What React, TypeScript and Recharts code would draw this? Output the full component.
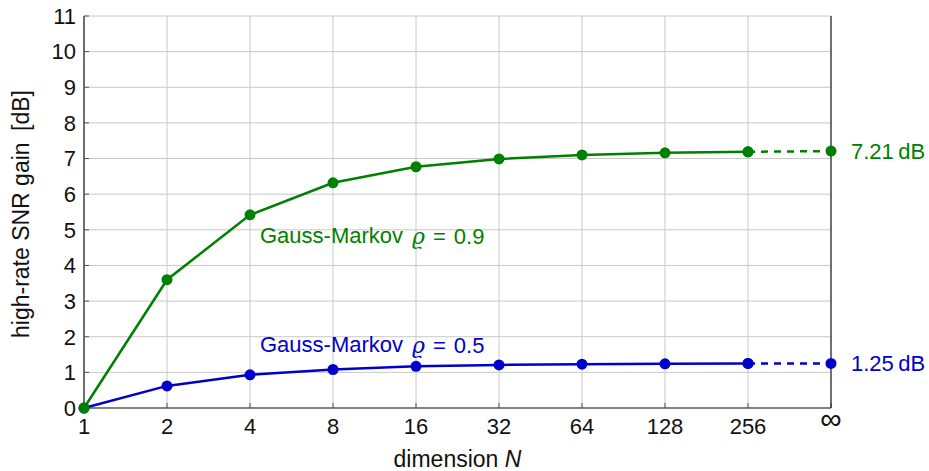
import React from 'react';
import { LineChart, Line, XAxis, YAxis, CartesianGrid, LabelList } from 'recharts';

const categories = ['1', '2', '4', '8', '16', '32', '64', '128', '256', '∞'];
const gm09 = [0, 3.6, 5.42, 6.32, 6.77, 6.99, 7.1, 7.16, 7.19, null];
const gm05 = [0, 0.62, 0.93, 1.08, 1.17, 1.21, 1.23, 1.24, 1.25, null];
const gm09Limit = [null, null, null, null, null, null, null, null, 7.19, 7.21];
const gm05Limit = [null, null, null, null, null, null, null, null, 1.25, 1.25];
const yTicks = [0, 1, 2, 3, 4, 5, 6, 7, 8, 9, 10, 11];
const limitLabels = ['7.21\u2009dB', '1.25\u2009dB'];
const rhoValues = ['0.9', '0.5'];

const GREEN = '#008000';
const BLUE = '#0000cc';
const FONT = '"Liberation Sans", Arial, sans-serif';

const data = categories.map((c, i) => ({
  cat: c,
  gm09: gm09[i],
  gm05: gm05[i],
  gm09Limit: gm09Limit[i],
  gm05Limit: gm05Limit[i],
}));

const makeAnnot = (color: string, rho: string, dx: number, dy: number) => (props: any) => {
  const { x, y, index } = props;
  if (index !== 2) return null;
  return (
    <text x={x + dx} y={y + dy} fill={color} fontSize={22} fontFamily={FONT} dominantBaseline="central">
      Gauss-Markov
      <tspan fontStyle="italic" fontFamily='"DejaVu Serif", serif' dx={9}>ϱ</tspan>
      <tspan dx={8}>=</tspan>
      <tspan dx={8}>{rho}</tspan>
    </text>
  );
};

const makeLimit = (color: string, text: string) => (props: any) => {
  const { x, y, index } = props;
  if (index !== categories.length - 1) return null;
  return (
    <text x={x + 20} y={y} fill={color} fontSize={22} fontFamily={FONT} dominantBaseline="central">
      {text}
    </text>
  );
};

const XTick = (props: any) => {
  const { x, payload } = props;
  const isInf = payload.value === '∞';
  return (
    <text
      x={x}
      y={isInf ? 429 : 434}
      textAnchor="middle"
      fill="#111"
      fontSize={isInf ? 30 : 22}
      fontFamily={FONT}
    >
      {payload.value}
    </text>
  );
};

export default function App() {
  return (
    <div style={{ position: 'absolute', left: 0, top: 0, width: 929, height: 471, background: '#fff' }}>
      <LineChart width={929} height={471} data={data} margin={{ top: 16, right: 97, bottom: 0, left: 0 }}>
        <CartesianGrid stroke="#c8c8c8" strokeWidth={1} />
        <XAxis
          dataKey="cat"
          height={63}
          axisLine={{ stroke: '#222', strokeWidth: 1.2 }}
          tickLine={{ stroke: '#555' }}
          tickSize={-5}
          tickMargin={16}
          interval={0}
          tick={<XTick />}
          label={{
            content: (p: any) => {
              const vb = p.viewBox;
              return (
                <text x={vb.x + vb.width / 2} y={467} textAnchor="middle" fontSize={23} fontFamily={FONT} fill="#111">
                  dimension <tspan fontStyle="italic">N</tspan>
                </text>
              );
            },
          }}
        />
        <XAxis
          xAxisId="top"
          dataKey="cat"
          orientation="top"
          height={0}
          axisLine={{ stroke: '#222', strokeWidth: 1.2 }}
          tickLine={{ stroke: '#555' }}
          tickSize={-5}
          tick={false}
          interval={0}
        />
        <YAxis
          domain={[0, 11]}
          ticks={yTicks}
          width={84}
          interval={0}
          axisLine={{ stroke: '#222', strokeWidth: 1.2 }}
          tickLine={{ stroke: '#555' }}
          tickSize={-5}
          tickMargin={13}
          tick={{ fill: '#111', fontSize: 22, fontFamily: FONT }}
          label={{
            content: () => {
              const cx = 21;
              const cy = 214;
              return (
                <text x={cx} y={cy} textAnchor="middle" dominantBaseline="central" fontSize={23} fontFamily={FONT} fill="#111" transform={`rotate(-90 ${cx} ${cy})`} style={{ whiteSpace: 'pre' }}>
                  {'high-rate SNR gain\u2002[dB]'}
                </text>
              );
            },
          }}
        />
        <YAxis
          yAxisId="right"
          orientation="right"
          domain={[0, 11]}
          ticks={yTicks}
          width={1}
          interval={0}
          axisLine={{ stroke: '#222', strokeWidth: 1.2 }}
          tickLine={{ stroke: '#555' }}
          tickSize={-5}
          tick={false}
        />
        <Line
          dataKey="gm09Limit"
          stroke={GREEN}
          strokeWidth={2.5}
          strokeDasharray="7 6"
          dot={{ r: 5.5, fill: GREEN, stroke: GREEN, strokeWidth: 0 }}
          isAnimationActive={false}
        >
          <LabelList content={makeLimit(GREEN, limitLabels[0])} />
        </Line>
        <Line
          dataKey="gm05Limit"
          stroke={BLUE}
          strokeWidth={2.5}
          strokeDasharray="7 6"
          dot={{ r: 5.5, fill: BLUE, stroke: BLUE, strokeWidth: 0 }}
          isAnimationActive={false}
        >
          <LabelList content={makeLimit(BLUE, limitLabels[1])} />
        </Line>
        <Line
          dataKey="gm05"
          stroke={BLUE}
          strokeWidth={2.5}
          dot={{ r: 5.5, fill: BLUE, stroke: BLUE, strokeWidth: 0 }}
          isAnimationActive={false}
        >
          <LabelList content={makeAnnot(BLUE, rhoValues[1], 10, -30)} />
        </Line>
        <Line
          dataKey="gm09"
          stroke={GREEN}
          strokeWidth={2.5}
          dot={{ r: 5.5, fill: GREEN, stroke: GREEN, strokeWidth: 0 }}
          isAnimationActive={false}
        >
          <LabelList content={makeAnnot(GREEN, rhoValues[0], 10, 21)} />
        </Line>
      </LineChart>
    </div>
  );
}
